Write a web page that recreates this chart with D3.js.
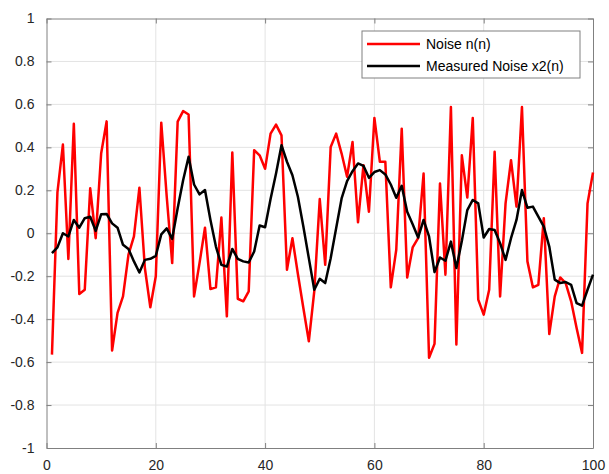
<!DOCTYPE html>
<html>
<head>
<meta charset="utf-8">
<script src="https://cdn.jsdelivr.net/npm/d3@7"></script>
<style>
  body { margin: 0; background: #fff; }
  text { font-family: "Liberation Sans", Arial, sans-serif; }
</style>
</head>
<body>
<div id="chart"></div>
<script>
// sample index n = 1..100
let samples = d3.range(1, 101);

let noise = [
  -0.565, 0.19, 0.413, -0.12, 0.51, -0.283, -0.263, 0.209, -0.023, 0.371,
  0.521, -0.546, -0.371, -0.294, -0.10, -0.015, 0.212, -0.162, -0.345, -0.2,
  0.515, 0.17, -0.139, 0.52, 0.569, 0.553, -0.294, -0.139, 0.026, -0.26,
  -0.252, 0.073, -0.387, 0.376, -0.305, -0.317, -0.271, 0.387, 0.363, 0.3,
  0.464, 0.506, 0.456, -0.17, -0.023, -0.19, -0.348, -0.503, -0.27, 0.159,
  -0.147, 0.402, 0.464, 0.371, 0.263, 0.425, 0.051, 0.317, 0.1, 0.537,
  0.333, 0.333, -0.252, -0.077, 0.487, -0.206, -0.066, -0.023, 0.278, -0.58,
  -0.515, 0.232, -0.193, 0.588, -0.518, 0.363, 0.166, 0.537, -0.309, -0.379,
  -0.263, 0.379, -0.294, 0.139, 0.34, 0.124, 0.588, -0.131, -0.252, -0.24,
  0.07, -0.469, -0.294, -0.206, -0.232, -0.317, -0.441, -0.557, 0.139, 0.283
];

let measured = [
  -0.093, -0.066, 0.0, -0.015, 0.062, 0.026, 0.07, 0.077, 0.011, 0.088,
  0.09, 0.046, 0.026, -0.054, -0.073, -0.131, -0.183, -0.124, -0.119, -0.105,
  -0.005, 0.023, -0.026, 0.116, 0.247, 0.356, 0.227, 0.181, 0.201, 0.062,
  -0.062, -0.147, -0.155, -0.073, -0.119, -0.131, -0.136, -0.085, 0.036, 0.028,
  0.16, 0.278, 0.41, 0.333, 0.27, 0.17, 0.031, -0.116, -0.263, -0.212,
  -0.232, -0.116, 0.023, 0.162, 0.243, 0.289, 0.325, 0.314, 0.258, 0.285,
  0.294, 0.274, 0.227, 0.165, 0.221, 0.1, 0.042, -0.02, 0.062, -0.015,
  -0.181, -0.113, -0.128, -0.039, -0.162, -0.036, 0.108, 0.155, 0.139, -0.02,
  0.02, 0.015, -0.046, -0.124, -0.023, 0.062, 0.201, 0.119, 0.124, 0.077,
  0.031, -0.062, -0.216, -0.232, -0.227, -0.24, -0.325, -0.337, -0.263, -0.193
];

let xTicks = [0, 20, 40, 60, 80, 100];
let yTicks = [-1, -0.8, -0.6, -0.4, -0.2, 0, 0.2, 0.4, 0.6, 0.8, 1];
let legendLabels = ["Noise n(n)", "Measured Noise x2(n)"];
let colors = ["#ff0000", "#000000"];

let margin = {top: 18.5, right: 16, bottom: 26, left: 46.5},
  width = 609 - margin.left - margin.right,
  height = 474 - margin.top - margin.bottom;

let svg = d3.select("#chart").append("svg")
  .attr("width", 609)
  .attr("height", 474)
  .append("g")
  .attr("transform", "translate(" + margin.left + "," + margin.top + ")");

let x = d3.scaleLinear().domain([0, 100]).range([0, width]);
let y = d3.scaleLinear().domain([-1, 1]).range([height, 0]);

// grid
svg.append("g")
  .selectAll("line")
  .data(xTicks.slice(1, -1))
  .enter().append("line")
  .attr("x1", d => x(d)).attr("x2", d => x(d))
  .attr("y1", 0).attr("y2", height)
  .attr("stroke", "#e3e3e3").attr("stroke-width", 1);

svg.append("g")
  .selectAll("line")
  .data(yTicks.slice(1, -1))
  .enter().append("line")
  .attr("x1", 0).attr("x2", width)
  .attr("y1", d => y(d)).attr("y2", d => y(d))
  .attr("stroke", "#e3e3e3").attr("stroke-width", 1);

// axes, MATLAB style: ticks inward on all four sides
let axisColor = "#808080";
// plain hyphen for negatives, like the original
let fmt = d => String(+d.toFixed(1));

let bottomAxis = svg.append("g")
  .attr("transform", "translate(0," + height + ")")
  .call(d3.axisBottom(x).tickValues(xTicks).tickSizeInner(-5).tickSizeOuter(0).tickPadding(12).tickFormat(fmt));
let topAxis = svg.append("g")
  .call(d3.axisTop(x).tickValues(xTicks).tickSizeInner(-5).tickSizeOuter(0).tickFormat(""));
let leftAxis = svg.append("g")
  .call(d3.axisLeft(y).tickValues(yTicks).tickSizeInner(-5).tickSizeOuter(0).tickPadding(12).tickFormat(fmt));
let rightAxis = svg.append("g")
  .attr("transform", "translate(" + width + ",0)")
  .call(d3.axisRight(y).tickValues(yTicks).tickSizeInner(-5).tickSizeOuter(0).tickFormat(""));

[bottomAxis, topAxis, leftAxis, rightAxis].forEach(function (a) {
  a.select(".domain").attr("stroke", axisColor);
  a.selectAll(".tick line").attr("stroke", axisColor);
  a.selectAll("text").attr("fill", "#262626").style("font-size", "14px");
});

// lines
let line = d3.line()
  .x((d, i) => x(samples[i]))
  .y(d => y(d));

svg.append("path")
  .datum(noise)
  .attr("fill", "none")
  .attr("stroke", colors[0])
  .attr("stroke-width", 2.5)
  .attr("stroke-linejoin", "round")
  .attr("d", line);

svg.append("path")
  .datum(measured)
  .attr("fill", "none")
  .attr("stroke", colors[1])
  .attr("stroke-width", 2.5)
  .attr("stroke-linejoin", "round")
  .attr("d", line);

// legend
let lg = svg.append("g")
  .attr("transform", "translate(" + (362 - margin.left) + "," + (31 - margin.top) + ")");

lg.append("rect")
  .attr("width", 218)
  .attr("height", 47)
  .attr("fill", "#fff")
  .attr("stroke", axisColor)
  .attr("stroke-width", 1);

legendLabels.forEach(function (label, i) {
  let yy = 13 + i * 22;
  lg.append("line")
    .attr("x1", 5).attr("x2", 58)
    .attr("y1", yy).attr("y2", yy)
    .attr("stroke", colors[i])
    .attr("stroke-width", 2.5);
  lg.append("text")
    .attr("x", 64).attr("y", yy)
    .attr("dy", "0.35em")
    .attr("fill", "#000")
    .style("font-size", "14px")
    .text(label);
});
</script>
</body>
</html>
